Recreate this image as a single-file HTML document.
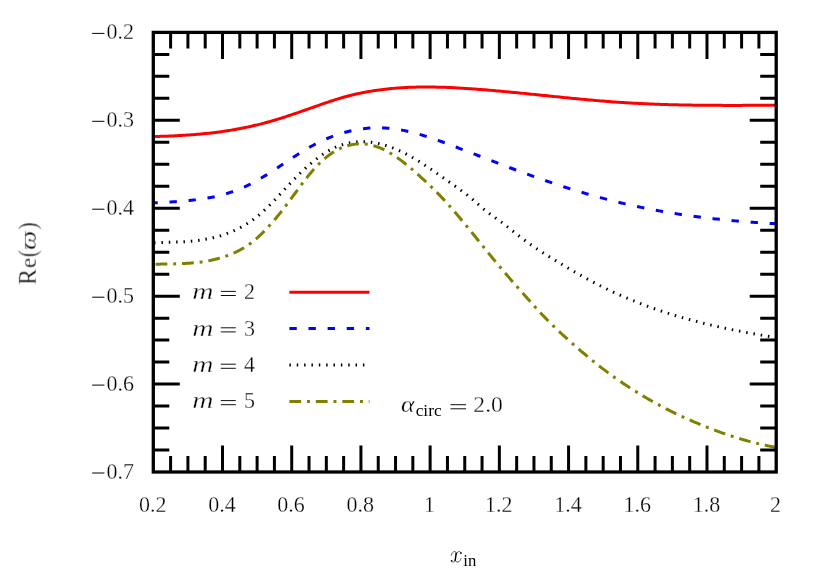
<!DOCTYPE html>
<html><head><meta charset="utf-8"><title>plot</title>
<style>html,body{margin:0;padding:0;background:#fff}svg{display:block}text{font-family:"Liberation Serif",serif;fill:#000}</style></head><body>
<svg width="830" height="580" viewBox="0 0 830 580">
<rect width="830" height="580" fill="#fff"/>
<path d="M153.3,136.55 L155.3,136.51 L157.3,136.46 L159.3,136.40 L161.3,136.35 L163.3,136.28 L165.3,136.22 L167.3,136.14 L169.3,136.07 L171.3,135.98 L173.3,135.89 L175.3,135.80 L177.3,135.70 L179.3,135.59 L181.3,135.48 L183.3,135.36 L185.3,135.24 L187.3,135.10 L189.3,134.96 L191.3,134.82 L193.3,134.66 L195.3,134.50 L197.3,134.33 L199.3,134.16 L201.3,133.97 L203.3,133.78 L205.3,133.58 L207.3,133.37 L209.3,133.15 L211.3,132.92 L213.3,132.69 L215.3,132.44 L217.3,132.19 L219.3,131.92 L221.3,131.65 L223.3,131.36 L225.3,131.07 L227.3,130.76 L229.3,130.45 L231.3,130.12 L233.3,129.79 L235.3,129.44 L237.3,129.08 L239.3,128.71 L241.3,128.33 L243.3,127.94 L245.3,127.53 L247.3,127.12 L249.3,126.69 L251.3,126.24 L253.3,125.79 L255.3,125.32 L257.3,124.84 L259.3,124.35 L261.3,123.85 L263.3,123.33 L265.3,122.79 L267.3,122.25 L269.3,121.69 L271.3,121.12 L273.3,120.53 L275.3,119.94 L277.3,119.33 L279.3,118.72 L281.3,118.09 L283.3,117.46 L285.3,116.82 L287.3,116.17 L289.3,115.51 L291.3,114.85 L293.3,114.17 L295.3,113.50 L297.3,112.81 L299.3,112.13 L301.3,111.43 L303.3,110.74 L305.3,110.04 L307.3,109.34 L309.3,108.63 L311.3,107.93 L313.3,107.22 L315.3,106.51 L317.3,105.80 L319.3,105.10 L321.3,104.39 L323.3,103.70 L325.3,103.00 L327.3,102.32 L329.3,101.64 L331.3,100.98 L333.3,100.33 L335.3,99.69 L337.3,99.07 L339.3,98.46 L341.3,97.87 L343.3,97.30 L345.3,96.75 L347.3,96.22 L349.3,95.70 L351.3,95.20 L353.3,94.72 L355.3,94.26 L357.3,93.81 L359.3,93.38 L361.3,92.96 L363.3,92.57 L365.3,92.18 L367.3,91.82 L369.3,91.47 L371.3,91.13 L373.3,90.81 L375.3,90.50 L377.3,90.21 L379.3,89.94 L381.3,89.67 L383.3,89.42 L385.3,89.19 L387.3,88.97 L389.3,88.76 L391.3,88.56 L393.3,88.38 L395.3,88.21 L397.3,88.05 L399.3,87.91 L401.3,87.77 L403.3,87.65 L405.3,87.54 L407.3,87.44 L409.3,87.35 L411.3,87.28 L413.3,87.21 L415.3,87.15 L417.3,87.10 L419.3,87.07 L421.3,87.04 L423.3,87.02 L425.3,87.01 L427.3,87.01 L429.3,87.02 L431.3,87.04 L433.3,87.06 L435.3,87.10 L437.3,87.14 L439.3,87.19 L441.3,87.24 L443.3,87.30 L445.3,87.37 L447.3,87.45 L449.3,87.53 L451.3,87.62 L453.3,87.72 L455.3,87.82 L457.3,87.93 L459.3,88.04 L461.3,88.15 L463.3,88.28 L465.3,88.40 L467.3,88.53 L469.3,88.67 L471.3,88.81 L473.3,88.95 L475.3,89.09 L477.3,89.24 L479.3,89.40 L481.3,89.55 L483.3,89.71 L485.3,89.87 L487.3,90.04 L489.3,90.20 L491.3,90.37 L493.3,90.54 L495.3,90.72 L497.3,90.90 L499.3,91.08 L501.3,91.26 L503.3,91.44 L505.3,91.63 L507.3,91.81 L509.3,92.00 L511.3,92.20 L513.3,92.39 L515.3,92.58 L517.3,92.78 L519.3,92.97 L521.3,93.17 L523.3,93.37 L525.3,93.57 L527.3,93.77 L529.3,93.97 L531.3,94.18 L533.3,94.38 L535.3,94.58 L537.3,94.79 L539.3,94.99 L541.3,95.20 L543.3,95.40 L545.3,95.61 L547.3,95.81 L549.3,96.01 L551.3,96.22 L553.3,96.42 L555.3,96.63 L557.3,96.83 L559.3,97.03 L561.3,97.23 L563.3,97.43 L565.3,97.63 L567.3,97.83 L569.3,98.03 L571.3,98.22 L573.3,98.42 L575.3,98.61 L577.3,98.80 L579.3,98.99 L581.3,99.18 L583.3,99.37 L585.3,99.55 L587.3,99.74 L589.3,99.92 L591.3,100.10 L593.3,100.27 L595.3,100.45 L597.3,100.62 L599.3,100.78 L601.3,100.95 L603.3,101.11 L605.3,101.27 L607.3,101.43 L609.3,101.58 L611.3,101.74 L613.3,101.88 L615.3,102.03 L617.3,102.17 L619.3,102.30 L621.3,102.44 L623.3,102.57 L625.3,102.69 L627.3,102.82 L629.3,102.93 L631.3,103.05 L633.3,103.16 L635.3,103.27 L637.3,103.37 L639.3,103.48 L641.3,103.57 L643.3,103.67 L645.3,103.76 L647.3,103.85 L649.3,103.94 L651.3,104.02 L653.3,104.10 L655.3,104.17 L657.3,104.25 L659.3,104.32 L661.3,104.39 L663.3,104.45 L665.3,104.51 L667.3,104.57 L669.3,104.63 L671.3,104.69 L673.3,104.74 L675.3,104.79 L677.3,104.84 L679.3,104.88 L681.3,104.92 L683.3,104.97 L685.3,105.00 L687.3,105.04 L689.3,105.07 L691.3,105.11 L693.3,105.14 L695.3,105.16 L697.3,105.19 L699.3,105.21 L701.3,105.24 L703.3,105.26 L705.3,105.28 L707.3,105.29 L709.3,105.31 L711.3,105.32 L713.3,105.34 L715.3,105.35 L717.3,105.36 L719.3,105.36 L721.3,105.37 L723.3,105.38 L725.3,105.38 L727.3,105.38 L729.3,105.39 L731.3,105.39 L733.3,105.39 L735.3,105.39 L737.3,105.38 L739.3,105.38 L741.3,105.38 L743.3,105.37 L745.3,105.37 L747.3,105.36 L749.3,105.36 L751.3,105.35 L753.3,105.34 L755.3,105.33 L757.3,105.32 L759.3,105.31 L761.3,105.31 L763.3,105.30 L765.3,105.29 L767.3,105.28 L769.3,105.27 L771.3,105.25 L773.3,105.24 L775.3,105.23 L776.2,105.23" fill="none" stroke="#ff0000" stroke-width="3.0"/>
<path d="M153.3,202.96 L155.3,202.84 L157.3,202.72 L159.3,202.61 L161.3,202.49 L163.3,202.38 L165.3,202.27 L167.3,202.15 L169.3,202.04 L171.3,201.92 L173.3,201.79 L175.3,201.66 L177.3,201.53 L179.3,201.38 L181.3,201.23 L183.3,201.07 L185.3,200.91 L187.3,200.72 L189.3,200.53 L191.3,200.33 L193.3,200.11 L195.3,199.88 L197.3,199.63 L199.3,199.36 L201.3,199.08 L203.3,198.78 L205.3,198.46 L207.3,198.12 L209.3,197.76 L211.3,197.38 L213.3,196.97 L215.3,196.54 L217.3,196.09 L219.3,195.61 L221.3,195.10 L223.3,194.57 L225.3,194.00 L227.3,193.41 L229.3,192.79 L231.3,192.13 L233.3,191.44 L235.3,190.72 L237.3,189.97 L239.3,189.18 L241.3,188.35 L243.3,187.49 L245.3,186.59 L247.3,185.65 L249.3,184.67 L251.3,183.65 L253.3,182.59 L255.3,181.50 L257.3,180.38 L259.3,179.23 L261.3,178.05 L263.3,176.84 L265.3,175.61 L267.3,174.36 L269.3,173.09 L271.3,171.81 L273.3,170.51 L275.3,169.20 L277.3,167.89 L279.3,166.56 L281.3,165.23 L283.3,163.90 L285.3,162.57 L287.3,161.24 L289.3,159.91 L291.3,158.59 L293.3,157.28 L295.3,155.99 L297.3,154.70 L299.3,153.44 L301.3,152.19 L303.3,150.96 L305.3,149.75 L307.3,148.58 L309.3,147.42 L311.3,146.30 L313.3,145.21 L315.3,144.16 L317.3,143.13 L319.3,142.14 L321.3,141.18 L323.3,140.26 L325.3,139.36 L327.3,138.50 L329.3,137.68 L331.3,136.88 L333.3,136.12 L335.3,135.39 L337.3,134.70 L339.3,134.04 L341.3,133.41 L343.3,132.81 L345.3,132.25 L347.3,131.72 L349.3,131.22 L351.3,130.76 L353.3,130.33 L355.3,129.94 L357.3,129.57 L359.3,129.24 L361.3,128.95 L363.3,128.69 L365.3,128.46 L367.3,128.26 L369.3,128.10 L371.3,127.97 L373.3,127.88 L375.3,127.82 L377.3,127.79 L379.3,127.80 L381.3,127.84 L383.3,127.91 L385.3,128.02 L387.3,128.16 L389.3,128.33 L391.3,128.54 L393.3,128.78 L395.3,129.05 L397.3,129.34 L399.3,129.67 L401.3,130.02 L403.3,130.40 L405.3,130.81 L407.3,131.24 L409.3,131.69 L411.3,132.17 L413.3,132.67 L415.3,133.19 L417.3,133.74 L419.3,134.30 L421.3,134.88 L423.3,135.48 L425.3,136.09 L427.3,136.73 L429.3,137.37 L431.3,138.03 L433.3,138.71 L435.3,139.39 L437.3,140.09 L439.3,140.80 L441.3,141.52 L443.3,142.25 L445.3,142.98 L447.3,143.73 L449.3,144.48 L451.3,145.23 L453.3,145.99 L455.3,146.76 L457.3,147.52 L459.3,148.29 L461.3,149.06 L463.3,149.83 L465.3,150.60 L467.3,151.37 L469.3,152.14 L471.3,152.91 L473.3,153.69 L475.3,154.46 L477.3,155.23 L479.3,156.01 L481.3,156.78 L483.3,157.55 L485.3,158.32 L487.3,159.10 L489.3,159.87 L491.3,160.64 L493.3,161.40 L495.3,162.17 L497.3,162.94 L499.3,163.70 L501.3,164.47 L503.3,165.23 L505.3,165.99 L507.3,166.75 L509.3,167.50 L511.3,168.25 L513.3,169.01 L515.3,169.75 L517.3,170.50 L519.3,171.24 L521.3,171.98 L523.3,172.72 L525.3,173.45 L527.3,174.18 L529.3,174.91 L531.3,175.63 L533.3,176.35 L535.3,177.07 L537.3,177.78 L539.3,178.48 L541.3,179.19 L543.3,179.88 L545.3,180.58 L547.3,181.27 L549.3,181.95 L551.3,182.63 L553.3,183.30 L555.3,183.97 L557.3,184.63 L559.3,185.29 L561.3,185.95 L563.3,186.59 L565.3,187.24 L567.3,187.87 L569.3,188.51 L571.3,189.13 L573.3,189.75 L575.3,190.37 L577.3,190.98 L579.3,191.58 L581.3,192.18 L583.3,192.78 L585.3,193.36 L587.3,193.95 L589.3,194.52 L591.3,195.09 L593.3,195.66 L595.3,196.22 L597.3,196.77 L599.3,197.32 L601.3,197.86 L603.3,198.39 L605.3,198.92 L607.3,199.44 L609.3,199.96 L611.3,200.47 L613.3,200.97 L615.3,201.47 L617.3,201.96 L619.3,202.45 L621.3,202.93 L623.3,203.40 L625.3,203.86 L627.3,204.32 L629.3,204.78 L631.3,205.22 L633.3,205.66 L635.3,206.10 L637.3,206.53 L639.3,206.95 L641.3,207.37 L643.3,207.78 L645.3,208.18 L647.3,208.58 L649.3,208.97 L651.3,209.36 L653.3,209.74 L655.3,210.11 L657.3,210.48 L659.3,210.85 L661.3,211.20 L663.3,211.56 L665.3,211.90 L667.3,212.24 L669.3,212.58 L671.3,212.91 L673.3,213.23 L675.3,213.55 L677.3,213.87 L679.3,214.18 L681.3,214.48 L683.3,214.78 L685.3,215.07 L687.3,215.36 L689.3,215.65 L691.3,215.93 L693.3,216.20 L695.3,216.47 L697.3,216.73 L699.3,216.99 L701.3,217.25 L703.3,217.49 L705.3,217.74 L707.3,217.98 L709.3,218.22 L711.3,218.45 L713.3,218.67 L715.3,218.90 L717.3,219.11 L719.3,219.33 L721.3,219.54 L723.3,219.74 L725.3,219.94 L727.3,220.14 L729.3,220.33 L731.3,220.52 L733.3,220.70 L735.3,220.88 L737.3,221.06 L739.3,221.23 L741.3,221.40 L743.3,221.56 L745.3,221.72 L747.3,221.88 L749.3,222.03 L751.3,222.18 L753.3,222.32 L755.3,222.47 L757.3,222.60 L759.3,222.74 L761.3,222.87 L763.3,223.00 L765.3,223.12 L767.3,223.24 L769.3,223.36 L771.3,223.48 L773.3,223.59 L775.3,223.70 L776.2,223.74" fill="none" stroke="#0000ff" stroke-width="3.0" stroke-dasharray="7.35,11.76" stroke-dashoffset="2.90"/>
<path d="M153.3,242.72 L155.3,242.67 L157.3,242.62 L159.3,242.57 L161.3,242.52 L163.3,242.48 L165.3,242.43 L167.3,242.38 L169.3,242.33 L171.3,242.28 L173.3,242.21 L175.3,242.15 L177.3,242.07 L179.3,241.98 L181.3,241.88 L183.3,241.77 L185.3,241.65 L187.3,241.51 L189.3,241.35 L191.3,241.18 L193.3,240.98 L195.3,240.77 L197.3,240.53 L199.3,240.27 L201.3,239.99 L203.3,239.68 L205.3,239.34 L207.3,238.98 L209.3,238.58 L211.3,238.16 L213.3,237.70 L215.3,237.20 L217.3,236.67 L219.3,236.11 L221.3,235.51 L223.3,234.86 L225.3,234.18 L227.3,233.46 L229.3,232.69 L231.3,231.88 L233.3,231.02 L235.3,230.11 L237.3,229.16 L239.3,228.15 L241.3,227.09 L243.3,225.98 L245.3,224.80 L247.3,223.57 L249.3,222.27 L251.3,220.91 L253.3,219.48 L255.3,217.99 L257.3,216.42 L259.3,214.78 L261.3,213.07 L263.3,211.28 L265.3,209.42 L267.3,207.50 L269.3,205.53 L271.3,203.51 L273.3,201.44 L275.3,199.35 L277.3,197.22 L279.3,195.08 L281.3,192.93 L283.3,190.77 L285.3,188.61 L287.3,186.46 L289.3,184.33 L291.3,182.23 L293.3,180.15 L295.3,178.10 L297.3,176.09 L299.3,174.11 L301.3,172.18 L303.3,170.28 L305.3,168.43 L307.3,166.62 L309.3,164.86 L311.3,163.15 L313.3,161.49 L315.3,159.89 L317.3,158.34 L319.3,156.85 L321.3,155.42 L323.3,154.05 L325.3,152.75 L327.3,151.52 L329.3,150.36 L331.3,149.26 L333.3,148.25 L335.3,147.30 L337.3,146.44 L339.3,145.66 L341.3,144.95 L343.3,144.31 L345.3,143.75 L347.3,143.27 L349.3,142.85 L351.3,142.49 L353.3,142.21 L355.3,141.99 L357.3,141.83 L359.3,141.73 L361.3,141.69 L363.3,141.70 L365.3,141.77 L367.3,141.90 L369.3,142.08 L371.3,142.31 L373.3,142.59 L375.3,142.92 L377.3,143.31 L379.3,143.74 L381.3,144.22 L383.3,144.75 L385.3,145.33 L387.3,145.96 L389.3,146.63 L391.3,147.34 L393.3,148.10 L395.3,148.90 L397.3,149.75 L399.3,150.64 L401.3,151.56 L403.3,152.53 L405.3,153.54 L407.3,154.59 L409.3,155.68 L411.3,156.80 L413.3,157.95 L415.3,159.13 L417.3,160.35 L419.3,161.59 L421.3,162.85 L423.3,164.14 L425.3,165.45 L427.3,166.77 L429.3,168.12 L431.3,169.48 L433.3,170.85 L435.3,172.23 L437.3,173.62 L439.3,175.01 L441.3,176.41 L443.3,177.81 L445.3,179.21 L447.3,180.62 L449.3,182.02 L451.3,183.43 L453.3,184.85 L455.3,186.27 L457.3,187.70 L459.3,189.14 L461.3,190.59 L463.3,192.06 L465.3,193.56 L467.3,195.08 L469.3,196.66 L471.3,198.30 L473.3,200.00 L475.3,201.74 L477.3,203.51 L479.3,205.29 L481.3,207.04 L483.3,208.74 L485.3,210.38 L487.3,211.95 L489.3,213.46 L491.3,214.93 L493.3,216.38 L495.3,217.80 L497.3,219.22 L499.3,220.65 L501.3,222.11 L503.3,223.60 L505.3,225.13 L507.3,226.69 L509.3,228.27 L511.3,229.87 L513.3,231.47 L515.3,233.06 L517.3,234.65 L519.3,236.21 L521.3,237.75 L523.3,239.26 L525.3,240.74 L527.3,242.18 L529.3,243.61 L531.3,245.00 L533.3,246.38 L535.3,247.73 L537.3,249.06 L539.3,250.37 L541.3,251.67 L543.3,252.95 L545.3,254.21 L547.3,255.47 L549.3,256.71 L551.3,257.94 L553.3,259.16 L555.3,260.38 L557.3,261.59 L559.3,262.80 L561.3,264.00 L563.3,265.20 L565.3,266.39 L567.3,267.58 L569.3,268.75 L571.3,269.93 L573.3,271.09 L575.3,272.24 L577.3,273.39 L579.3,274.53 L581.3,275.65 L583.3,276.77 L585.3,277.88 L587.3,278.97 L589.3,280.06 L591.3,281.13 L593.3,282.19 L595.3,283.23 L597.3,284.26 L599.3,285.28 L601.3,286.29 L603.3,287.28 L605.3,288.26 L607.3,289.23 L609.3,290.19 L611.3,291.13 L613.3,292.06 L615.3,292.98 L617.3,293.89 L619.3,294.78 L621.3,295.67 L623.3,296.54 L625.3,297.40 L627.3,298.25 L629.3,299.09 L631.3,299.91 L633.3,300.73 L635.3,301.53 L637.3,302.33 L639.3,303.11 L641.3,303.88 L643.3,304.64 L645.3,305.39 L647.3,306.13 L649.3,306.87 L651.3,307.59 L653.3,308.30 L655.3,309.00 L657.3,309.69 L659.3,310.37 L661.3,311.04 L663.3,311.71 L665.3,312.36 L667.3,313.01 L669.3,313.64 L671.3,314.27 L673.3,314.89 L675.3,315.50 L677.3,316.10 L679.3,316.69 L681.3,317.27 L683.3,317.85 L685.3,318.42 L687.3,318.98 L689.3,319.53 L691.3,320.08 L693.3,320.61 L695.3,321.14 L697.3,321.66 L699.3,322.18 L701.3,322.68 L703.3,323.18 L705.3,323.68 L707.3,324.16 L709.3,324.64 L711.3,325.12 L713.3,325.58 L715.3,326.04 L717.3,326.50 L719.3,326.95 L721.3,327.39 L723.3,327.82 L725.3,328.26 L727.3,328.68 L729.3,329.10 L731.3,329.51 L733.3,329.92 L735.3,330.32 L737.3,330.72 L739.3,331.11 L741.3,331.50 L743.3,331.89 L745.3,332.26 L747.3,332.64 L749.3,333.01 L751.3,333.37 L753.3,333.73 L755.3,334.09 L757.3,334.44 L759.3,334.79 L761.3,335.14 L763.3,335.48 L765.3,335.82 L767.3,336.15 L769.3,336.49 L771.3,336.81 L773.3,337.14 L775.3,337.46 L776.2,337.61" fill="none" stroke="#000000" stroke-width="3.0" stroke-dasharray="1.47,5.88" stroke-dashoffset="6.55"/>
<path d="M153.3,264.32 L155.3,264.26 L157.3,264.21 L159.3,264.16 L161.3,264.12 L163.3,264.08 L165.3,264.04 L167.3,264.00 L169.3,263.96 L171.3,263.92 L173.3,263.88 L175.3,263.82 L177.3,263.76 L179.3,263.69 L181.3,263.62 L183.3,263.52 L185.3,263.42 L187.3,263.30 L189.3,263.17 L191.3,263.02 L193.3,262.85 L195.3,262.66 L197.3,262.44 L199.3,262.21 L201.3,261.95 L203.3,261.66 L205.3,261.34 L207.3,261.00 L209.3,260.63 L211.3,260.22 L213.3,259.78 L215.3,259.31 L217.3,258.80 L219.3,258.25 L221.3,257.66 L223.3,257.03 L225.3,256.36 L227.3,255.65 L229.3,254.89 L231.3,254.09 L233.3,253.23 L235.3,252.33 L237.3,251.37 L239.3,250.35 L241.3,249.27 L243.3,248.12 L245.3,246.90 L247.3,245.59 L249.3,244.21 L251.3,242.73 L253.3,241.17 L255.3,239.52 L257.3,237.78 L259.3,235.97 L261.3,234.07 L263.3,232.11 L265.3,230.07 L267.3,227.97 L269.3,225.81 L271.3,223.59 L273.3,221.31 L275.3,218.97 L277.3,216.58 L279.3,214.13 L281.3,211.63 L283.3,209.08 L285.3,206.48 L287.3,203.83 L289.3,201.15 L291.3,198.45 L293.3,195.73 L295.3,193.00 L297.3,190.28 L299.3,187.57 L301.3,184.88 L303.3,182.24 L305.3,179.63 L307.3,177.08 L309.3,174.60 L311.3,172.19 L313.3,169.86 L315.3,167.63 L317.3,165.51 L319.3,163.49 L321.3,161.57 L323.3,159.75 L325.3,158.04 L327.3,156.43 L329.3,154.92 L331.3,153.51 L333.3,152.20 L335.3,150.99 L337.3,149.88 L339.3,148.86 L341.3,147.94 L343.3,147.12 L345.3,146.39 L347.3,145.75 L349.3,145.21 L351.3,144.75 L353.3,144.39 L355.3,144.12 L357.3,143.94 L359.3,143.85 L361.3,143.84 L363.3,143.93 L365.3,144.10 L367.3,144.35 L369.3,144.69 L371.3,145.11 L373.3,145.62 L375.3,146.21 L377.3,146.88 L379.3,147.63 L381.3,148.46 L383.3,149.37 L385.3,150.36 L387.3,151.42 L389.3,152.55 L391.3,153.75 L393.3,155.01 L395.3,156.33 L397.3,157.71 L399.3,159.15 L401.3,160.63 L403.3,162.17 L405.3,163.74 L407.3,165.36 L409.3,167.01 L411.3,168.70 L413.3,170.41 L415.3,172.16 L417.3,173.92 L419.3,175.71 L421.3,177.52 L423.3,179.34 L425.3,181.19 L427.3,183.07 L429.3,184.96 L431.3,186.89 L433.3,188.85 L435.3,190.84 L437.3,192.86 L439.3,194.91 L441.3,197.00 L443.3,199.13 L445.3,201.29 L447.3,203.49 L449.3,205.72 L451.3,207.99 L453.3,210.28 L455.3,212.60 L457.3,214.94 L459.3,217.30 L461.3,219.69 L463.3,222.10 L465.3,224.52 L467.3,226.95 L469.3,229.40 L471.3,231.86 L473.3,234.32 L475.3,236.79 L477.3,239.27 L479.3,241.75 L481.3,244.22 L483.3,246.70 L485.3,249.17 L487.3,251.63 L489.3,254.08 L491.3,256.53 L493.3,258.96 L495.3,261.37 L497.3,263.77 L499.3,266.16 L501.3,268.53 L503.3,270.88 L505.3,273.23 L507.3,275.56 L509.3,277.87 L511.3,280.18 L513.3,282.47 L515.3,284.76 L517.3,287.03 L519.3,289.30 L521.3,291.55 L523.3,293.80 L525.3,296.04 L527.3,298.27 L529.3,300.50 L531.3,302.72 L533.3,304.93 L535.3,307.14 L537.3,309.33 L539.3,311.50 L541.3,313.65 L543.3,315.78 L545.3,317.88 L547.3,319.94 L549.3,321.97 L551.3,323.97 L553.3,325.92 L555.3,327.85 L557.3,329.75 L559.3,331.63 L561.3,333.48 L563.3,335.32 L565.3,337.14 L567.3,338.94 L569.3,340.74 L571.3,342.53 L573.3,344.30 L575.3,346.07 L577.3,347.82 L579.3,349.56 L581.3,351.28 L583.3,352.99 L585.3,354.69 L587.3,356.36 L589.3,358.02 L591.3,359.67 L593.3,361.29 L595.3,362.90 L597.3,364.48 L599.3,366.05 L601.3,367.60 L603.3,369.13 L605.3,370.64 L607.3,372.14 L609.3,373.61 L611.3,375.07 L613.3,376.51 L615.3,377.94 L617.3,379.34 L619.3,380.73 L621.3,382.10 L623.3,383.46 L625.3,384.79 L627.3,386.12 L629.3,387.42 L631.3,388.71 L633.3,389.98 L635.3,391.24 L637.3,392.48 L639.3,393.71 L641.3,394.92 L643.3,396.11 L645.3,397.29 L647.3,398.46 L649.3,399.61 L651.3,400.74 L653.3,401.86 L655.3,402.97 L657.3,404.06 L659.3,405.14 L661.3,406.21 L663.3,407.26 L665.3,408.30 L667.3,409.32 L669.3,410.34 L671.3,411.34 L673.3,412.32 L675.3,413.30 L677.3,414.26 L679.3,415.21 L681.3,416.14 L683.3,417.07 L685.3,417.98 L687.3,418.88 L689.3,419.77 L691.3,420.65 L693.3,421.52 L695.3,422.38 L697.3,423.22 L699.3,424.06 L701.3,424.88 L703.3,425.70 L705.3,426.50 L707.3,427.30 L709.3,428.08 L711.3,428.86 L713.3,429.62 L715.3,430.38 L717.3,431.12 L719.3,431.85 L721.3,432.58 L723.3,433.29 L725.3,433.98 L727.3,434.67 L729.3,435.35 L731.3,436.01 L733.3,436.66 L735.3,437.30 L737.3,437.93 L739.3,438.54 L741.3,439.15 L743.3,439.73 L745.3,440.31 L747.3,440.87 L749.3,441.42 L751.3,441.95 L753.3,442.47 L755.3,442.98 L757.3,443.47 L759.3,443.95 L761.3,444.41 L763.3,444.86 L765.3,445.29 L767.3,445.70 L769.3,446.11 L771.3,446.49 L773.3,446.86 L775.3,447.21 L776.2,447.37" fill="none" stroke="#808000" stroke-width="3.0" stroke-dasharray="11.76,5.88,2.94,5.88" stroke-dashoffset="24.16"/>
<path d="M289.4,292.2 L369.5,292.2" fill="none" stroke="#ff0000" stroke-width="3.0"/>
<path d="M289.4,328.6 L369.5,328.6" fill="none" stroke="#0000ff" stroke-width="3.0" stroke-dasharray="7.35,11.76"/>
<path d="M289.4,364.9 L369.5,364.9" fill="none" stroke="#000000" stroke-width="3.0" stroke-dasharray="1.47,5.88"/>
<path d="M289.4,401.4 L369.5,401.4" fill="none" stroke="#808000" stroke-width="3.0" stroke-dasharray="11.76,5.88,2.94,5.88"/>
<path d="M170.60,32.4 v16.0 M170.60,472.0 v-16.0 M187.91,32.4 v16.0 M187.91,472.0 v-16.0 M205.21,32.4 v16.0 M205.21,472.0 v-16.0 M222.51,32.4 v26.5 M222.51,472.0 v-26.5 M239.81,32.4 v16.0 M239.81,472.0 v-16.0 M257.12,32.4 v16.0 M257.12,472.0 v-16.0 M274.42,32.4 v16.0 M274.42,472.0 v-16.0 M291.72,32.4 v26.5 M291.72,472.0 v-26.5 M309.03,32.4 v16.0 M309.03,472.0 v-16.0 M326.33,32.4 v16.0 M326.33,472.0 v-16.0 M343.63,32.4 v16.0 M343.63,472.0 v-16.0 M360.93,32.4 v26.5 M360.93,472.0 v-26.5 M378.24,32.4 v16.0 M378.24,472.0 v-16.0 M395.54,32.4 v16.0 M395.54,472.0 v-16.0 M412.84,32.4 v16.0 M412.84,472.0 v-16.0 M430.14,32.4 v26.5 M430.14,472.0 v-26.5 M447.45,32.4 v16.0 M447.45,472.0 v-16.0 M464.75,32.4 v16.0 M464.75,472.0 v-16.0 M482.05,32.4 v16.0 M482.05,472.0 v-16.0 M499.36,32.4 v26.5 M499.36,472.0 v-26.5 M516.66,32.4 v16.0 M516.66,472.0 v-16.0 M533.96,32.4 v16.0 M533.96,472.0 v-16.0 M551.26,32.4 v16.0 M551.26,472.0 v-16.0 M568.57,32.4 v26.5 M568.57,472.0 v-26.5 M585.87,32.4 v16.0 M585.87,472.0 v-16.0 M603.17,32.4 v16.0 M603.17,472.0 v-16.0 M620.48,32.4 v16.0 M620.48,472.0 v-16.0 M637.78,32.4 v26.5 M637.78,472.0 v-26.5 M655.08,32.4 v16.0 M655.08,472.0 v-16.0 M672.38,32.4 v16.0 M672.38,472.0 v-16.0 M689.69,32.4 v16.0 M689.69,472.0 v-16.0 M706.99,32.4 v26.5 M706.99,472.0 v-26.5 M724.29,32.4 v16.0 M724.29,472.0 v-16.0 M741.59,32.4 v16.0 M741.59,472.0 v-16.0 M758.90,32.4 v16.0 M758.90,472.0 v-16.0 M153.3,54.38 h16.0 M776.2,54.38 h-16.0 M153.3,76.36 h16.0 M776.2,76.36 h-16.0 M153.3,98.34 h16.0 M776.2,98.34 h-16.0 M153.3,120.32 h26.5 M776.2,120.32 h-26.5 M153.3,142.30 h16.0 M776.2,142.30 h-16.0 M153.3,164.28 h16.0 M776.2,164.28 h-16.0 M153.3,186.26 h16.0 M776.2,186.26 h-16.0 M153.3,208.24 h26.5 M776.2,208.24 h-26.5 M153.3,230.22 h16.0 M776.2,230.22 h-16.0 M153.3,252.20 h16.0 M776.2,252.20 h-16.0 M153.3,274.18 h16.0 M776.2,274.18 h-16.0 M153.3,296.16 h26.5 M776.2,296.16 h-26.5 M153.3,318.14 h16.0 M776.2,318.14 h-16.0 M153.3,340.12 h16.0 M776.2,340.12 h-16.0 M153.3,362.10 h16.0 M776.2,362.10 h-16.0 M153.3,384.08 h26.5 M776.2,384.08 h-26.5 M153.3,406.06 h16.0 M776.2,406.06 h-16.0 M153.3,428.04 h16.0 M776.2,428.04 h-16.0 M153.3,450.02 h16.0 M776.2,450.02 h-16.0" fill="none" stroke="#000" stroke-width="3"/>
<rect x="153.3" y="32.4" width="622.9" height="439.6" fill="none" stroke="#000" stroke-width="3.3"/>
<g id="txt" stroke="#fff" stroke-width="0.28" opacity="0.999">
<text transform="matrix(1,0,0,1.07,152.70,512.40)" font-size="22" text-anchor="middle">0.2</text>
<text transform="matrix(1,0,0,1.07,221.91,512.40)" font-size="22" text-anchor="middle">0.4</text>
<text transform="matrix(1,0,0,1.07,291.12,512.40)" font-size="22" text-anchor="middle">0.6</text>
<text transform="matrix(1,0,0,1.07,360.33,512.40)" font-size="22" text-anchor="middle">0.8</text>
<text transform="matrix(1,0,0,1.07,429.54,512.40)" font-size="22" text-anchor="middle">1</text>
<text transform="matrix(1,0,0,1.07,498.76,512.40)" font-size="22" text-anchor="middle">1.2</text>
<text transform="matrix(1,0,0,1.07,567.97,512.40)" font-size="22" text-anchor="middle">1.4</text>
<text transform="matrix(1,0,0,1.07,637.18,512.40)" font-size="22" text-anchor="middle">1.6</text>
<text transform="matrix(1,0,0,1.07,706.39,512.40)" font-size="22" text-anchor="middle">1.8</text>
<text transform="matrix(1,0,0,1.07,775.60,512.40)" font-size="22" text-anchor="middle">2</text>
<text transform="matrix(1,0,0,1.07,134.00,39.30)" font-size="22" text-anchor="end">0.2</text>
<path d="M92.2,33.4 h12.2" stroke="#000" stroke-width="1.0"/>
<text transform="matrix(1,0,0,1.07,134.00,127.22)" font-size="22" text-anchor="end">0.3</text>
<path d="M92.2,121.3 h12.2" stroke="#000" stroke-width="1.0"/>
<text transform="matrix(1,0,0,1.07,134.00,215.14)" font-size="22" text-anchor="end">0.4</text>
<path d="M92.2,209.2 h12.2" stroke="#000" stroke-width="1.0"/>
<text transform="matrix(1,0,0,1.07,134.00,303.06)" font-size="22" text-anchor="end">0.5</text>
<path d="M92.2,297.2 h12.2" stroke="#000" stroke-width="1.0"/>
<text transform="matrix(1,0,0,1.07,134.00,390.98)" font-size="22" text-anchor="end">0.6</text>
<path d="M92.2,385.1 h12.2" stroke="#000" stroke-width="1.0"/>
<text transform="matrix(1,0,0,1.07,134.00,478.90)" font-size="22" text-anchor="end">0.7</text>
<path d="M92.2,473.0 h12.2" stroke="#000" stroke-width="1.0"/>
<text transform="matrix(1.4708,0,0,1.1064,192.30,299.10)" font-size="20" font-style="italic">m</text>
<path d="M220.8,291.4 H235.8 M220.8,295.5 H235.8" stroke="#000" stroke-width="0.95" fill="none"/>
<text transform="matrix(1,0,0,1.07,244.00,299.10)" font-size="22" text-anchor="start">2</text>
<text transform="matrix(1.4708,0,0,1.1064,192.30,335.50)" font-size="20" font-style="italic">m</text>
<path d="M220.8,327.8 H235.8 M220.8,331.9 H235.8" stroke="#000" stroke-width="0.95" fill="none"/>
<text transform="matrix(1,0,0,1.07,244.00,335.50)" font-size="22" text-anchor="start">3</text>
<text transform="matrix(1.4708,0,0,1.1064,192.30,371.90)" font-size="20" font-style="italic">m</text>
<path d="M220.8,364.2 H235.8 M220.8,368.3 H235.8" stroke="#000" stroke-width="0.95" fill="none"/>
<text transform="matrix(1,0,0,1.07,244.00,371.90)" font-size="22" text-anchor="start">4</text>
<text transform="matrix(1.4708,0,0,1.1064,192.30,408.30)" font-size="20" font-style="italic">m</text>
<path d="M220.8,400.6 H235.8 M220.8,404.7 H235.8" stroke="#000" stroke-width="0.95" fill="none"/>
<text transform="matrix(1,0,0,1.07,244.00,408.30)" font-size="22" text-anchor="start">5</text>
<text transform="matrix(1.2976,0,0,1.1088,401.12,412.38)" font-size="20" font-style="italic">α</text>
<text transform="matrix(0.8706,0,0,0.8699,415.65,415.63)" font-size="20" stroke="none">circ</text>
<path d="M450.5,404.7 H466.1 M450.5,408.8 H466.1" stroke="#000" stroke-width="0.95" fill="none"/>
<text transform="matrix(1.1820,0,0,1.1250,473.34,412.36)" font-size="20">2.0</text>
<g transform="translate(445,545) scale(0.043367)" fill="none" stroke="#000" stroke-linecap="round" stroke-linejoin="round"><path d="M142,238 C152,190 192,146 226,151 C246,154 256,166 258,186" stroke-width="15"/><path d="M258,180 C256,250 240,310 231,364" stroke-width="34" stroke-linecap="butt"/><path d="M231,362 C224,396 186,402 164,386" stroke-width="15"/><circle cx="153" cy="366" r="21" fill="#000" stroke="none"/><path d="M262,218 C276,172 306,146 336,151 C351,153 361,166 366,181" stroke-width="15"/><circle cx="368" cy="187" r="21" fill="#000" stroke="none"/><path d="M240,338 C240,386 270,401 300,393 C335,383 358,346 368,316" stroke-width="15"/></g>
<text transform="matrix(0.8350,0,0,0.7925,463.27,565.70)" font-size="20" stroke="none">in</text>
<g transform="translate(35.9,284.5) rotate(-90)">
<text transform="matrix(1.2047,0,0,1.2366,-0.42,0.00)" font-size="20">R</text>
<text transform="matrix(1.1486,0,0,1.1250,16.48,-0.03)" font-size="20">e</text>
<text transform="matrix(1.0000,0,0,1.2782,27.40,0.07)" font-size="20">(</text>
<text transform="matrix(1.3284,0,0,1.1915,34.84,0.06)" font-size="20" font-style="italic">ϖ</text>
<text transform="matrix(1.0680,0,0,1.2782,54.91,0.07)" font-size="20">)</text>
</g>
</g>
</svg></body></html>
